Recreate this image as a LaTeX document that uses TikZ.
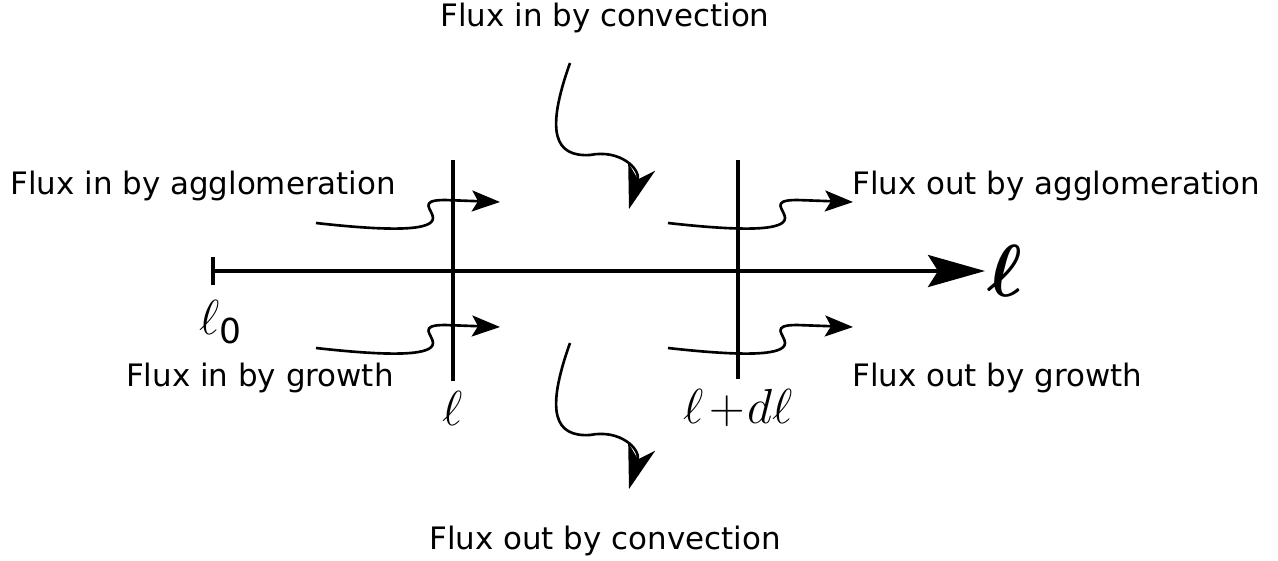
\RequirePackage{fix-cm}
\documentclass[tikz,border=0pt]{standalone}
\usepackage{amsmath}
\usepackage{fontspec}
\setmainfont{DejaVu Sans}
\usepackage{tikz}
\usetikzlibrary{arrows.meta, positioning, calc}
\definecolor{mydark}{RGB}{0,0,0}
\tikzset{
  fluxlabel/.style={inner sep=0pt, font=\fontsize{17.6}{21}\selectfont, color=mydark},
  varlabel/.style={inner sep=0pt, font=\fontsize{28}{32}\selectfont, color=mydark},
  axis/.style={-{Stealth[length=1.14cm, width=0.64cm, inset=0.2cm]}, line width=2.2pt, color=mydark},
  bound/.style={line width=1.8pt, color=mydark},
  tick/.style={line width=2.2pt, color=mydark},
  fluxarrow/.style={-{Stealth[length=0.56cm, width=0.42cm, inset=0.12cm]}, line width=1.5pt, color=mydark},
  convarrow/.style={-{Stealth[length=0.88cm, width=0.56cm, inset=0.26cm]}, line width=1.5pt, color=mydark}
}

\begin{document}
\begin{tikzpicture}[x=0.02cm, y=-0.02cm]
  \useasboundingbox (0,0) rectangle (1278,561);

  % axis in l
  \coordinate (lzero) at (213,271);
  \coordinate (lend)  at (985,271);
  \draw[axis] (lzero) -- (lend);
  \draw[tick] ($(lzero)+(0,-14)$) -- ($(lzero)+(0,14)$);
  \node[varlabel, font=\fontsize{42}{48}\selectfont, right=1pt of lend] (lbig) {$\boldsymbol{\ell}$};
  \node[varlabel] (l0) at (221,322) {$\ell_{\text{0}}$};

  % slice boundaries
  \node[varlabel] (lleft)  at (453,408) {$\ell$};
  \node[varlabel] (lright) at (738,408) {$\ell\mkern2mu{+}\mkern1mu d\ell$};
  \coordinate (lefttop)  at (453,160);
  \coordinate (righttop) at (738,160);
  \draw[bound] (lefttop)  -- ($(lleft.north)+(0,-10)$);
  \draw[bound] (righttop) -- ($(lright.north)+(0,-10)$);

  % labels
  \node[fluxlabel, anchor=base] (convin)  at (605,27)  {Flux in by convection};
  \node[fluxlabel, anchor=base] (convout) at (605,549) {Flux out by convection};
  \node[fluxlabel, anchor=base west] (aggin)  at (10,194)  {Flux in by agglomeration};
  \node[fluxlabel, anchor=base west] (aggout) at (852,194) {Flux out by agglomeration};
  \node[fluxlabel, anchor=base east] (grin)   at (394,386) {Flux in by growth};
  \node[fluxlabel, anchor=base west] (grout)  at (852,386) {Flux out by growth};

  % flux arrows
  \coordinate (agginS)  at (316,223); \coordinate (agginT)  at (500,202);
  \coordinate (aggoutS) at (668,223); \coordinate (aggoutT) at (853,202);
  \coordinate (grinS)   at (316,348); \coordinate (grinT)   at (500,327);
  \coordinate (groutS)  at (668,348); \coordinate (groutT)  at (853,327);
  \draw[fluxarrow] (agginS) .. controls +(80,9) and +(0,12) .. ++(117,-5)
    .. controls +(0,-8) and +(-28,0) .. ++(12,-18) -- (agginT);
  \draw[fluxarrow] (aggoutS) .. controls +(80,9) and +(0,12) .. ++(117,-5)
    .. controls +(0,-8) and +(-28,0) .. ++(12,-18) -- (aggoutT);
  \draw[fluxarrow] (grinS) .. controls +(80,9) and +(0,12) .. ++(117,-5)
    .. controls +(0,-8) and +(-28,0) .. ++(12,-18) -- (grinT);
  \draw[fluxarrow] (groutS) .. controls +(80,9) and +(0,12) .. ++(117,-5)
    .. controls +(0,-8) and +(-28,0) .. ++(12,-18) -- (groutT);

  \coordinate (convinS)  at (570,63);  \coordinate (convinT)  at (629,209);
  \coordinate (convoutS) at (570,343); \coordinate (convoutT) at (629,489);
  \draw[convarrow] (convinS) .. controls +(-25,70) and +(-35,2) .. ++(20,92)
    .. controls +(30,-6) and +(12,-40) .. (convinT);
  \draw[convarrow] (convoutS) .. controls +(-25,70) and +(-35,2) .. ++(20,92)
    .. controls +(30,-6) and +(12,-40) .. (convoutT);
\end{tikzpicture}
\end{document}
